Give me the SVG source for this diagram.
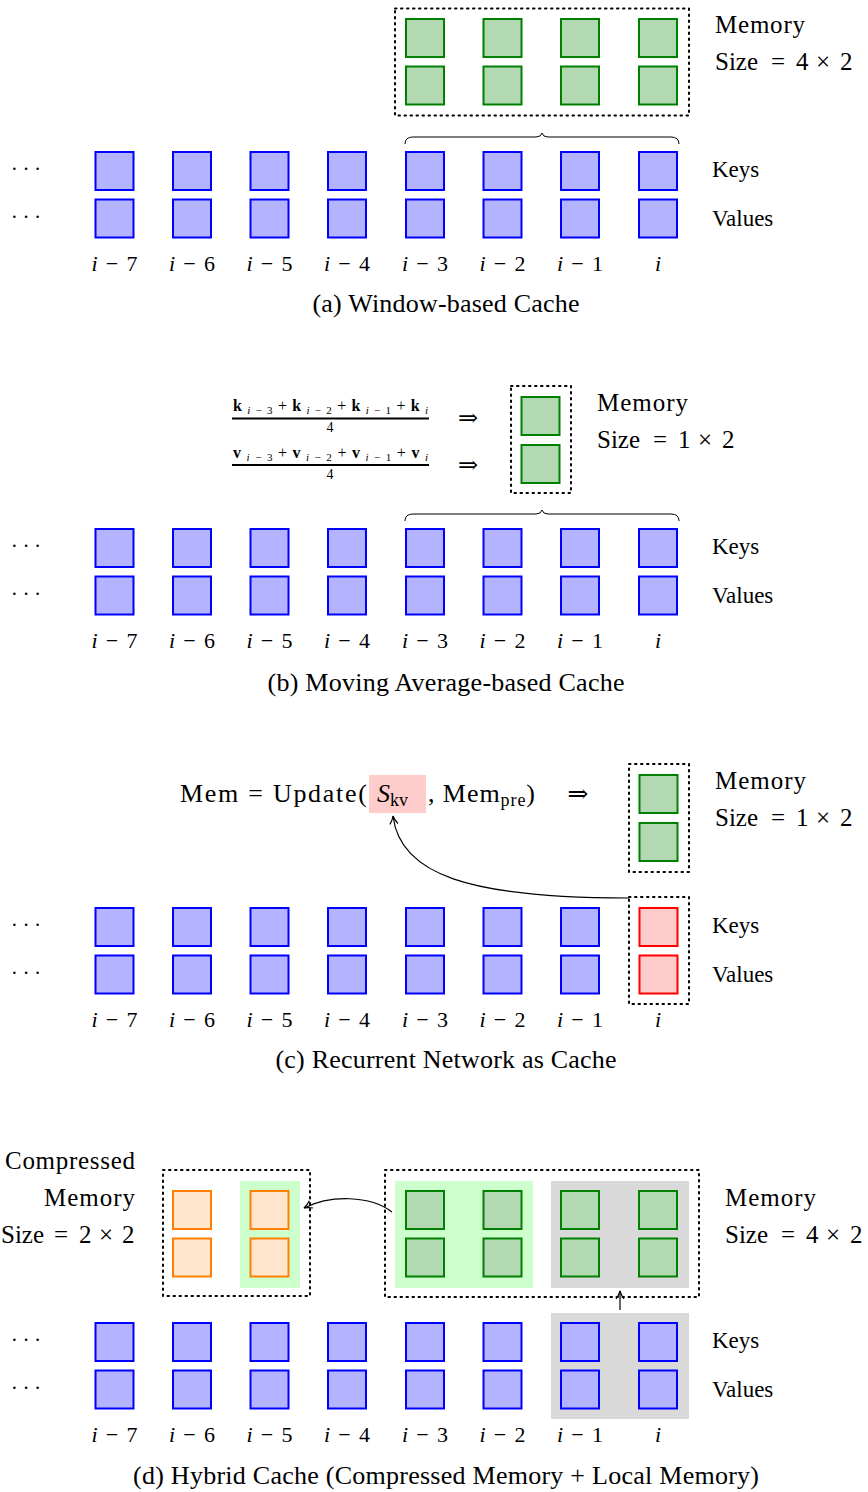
<svg xmlns="http://www.w3.org/2000/svg" width="868" height="1492" viewBox="0 0 868 1492">
<style>
text{font-family:"Liberation Serif","DejaVu Serif",serif;fill:#000}
.kv{fill:#b3b3ff;stroke:#0000ff;stroke-width:2}
.mem{fill:#b3d9b3;stroke:#008000;stroke-width:2}
.red{fill:#ffcccc;stroke:#ff0000;stroke-width:2}
.org{fill:#ffe6cc;stroke:#ff8000;stroke-width:2}
.dot{fill:none;stroke:#000;stroke-width:2;stroke-dasharray:1.5 4.5;stroke-linecap:round}
.brace{fill:none;stroke:#000;stroke-width:1}
.lbl{font-size:23px}
.big{font-size:25px}
.idx{font-size:22px;text-anchor:middle}
.cap{font-size:26px;text-anchor:middle}
.dots{font-size:20px}
.conn{fill:none;stroke:#000;stroke-width:1.2}
</style>
<defs>
<g id="col">
<rect class="kv" x="0" y="152" width="38" height="38"/>
<rect class="kv" x="0" y="199.5" width="38" height="38"/>
</g>
<g id="row">
<use href="#col" x="95.5"/><use href="#col" x="173"/><use href="#col" x="250.5"/><use href="#col" x="328"/>
<use href="#col" x="406"/><use href="#col" x="483.5"/><use href="#col" x="561"/>
</g>
<g id="labels">
<text class="idx" x="114.5" y="271" textLength="46"><tspan font-style="italic">i</tspan> − 7</text>
<text class="idx" x="192" y="271" textLength="46"><tspan font-style="italic">i</tspan> − 6</text>
<text class="idx" x="269.5" y="271" textLength="46"><tspan font-style="italic">i</tspan> − 5</text>
<text class="idx" x="347" y="271" textLength="46"><tspan font-style="italic">i</tspan> − 4</text>
<text class="idx" x="425" y="271" textLength="46"><tspan font-style="italic">i</tspan> − 3</text>
<text class="idx" x="502.5" y="271" textLength="46"><tspan font-style="italic">i</tspan> − 2</text>
<text class="idx" x="580" y="271" textLength="46"><tspan font-style="italic">i</tspan> − 1</text>
<text class="idx" x="658" y="271" font-style="italic">i</text>
<text class="dots" x="11" y="176">· · ·</text>
<text class="dots" x="11" y="224">· · ·</text>
<text class="lbl" x="712" y="177">Keys</text>
<text class="lbl" x="712" y="226">Values</text>
</g>
<path id="brace" class="brace" d="M405,144 Q405,137 413,137 L536,137 Q541,137 542,133 Q543,137 548,137 L671,137 Q679,137 679,144"/>
<marker id="ah" viewBox="0 0 10 10" refX="9" refY="5" markerWidth="10" markerHeight="10" markerUnits="userSpaceOnUse" orient="auto">
<path d="M1,1 Q5,4 9,5 Q5,6 1,9" fill="none" stroke="#000" stroke-width="1.2"/>
</marker>
</defs>

<!-- (a) -->
<g id="a-kv">
<use href="#row"/><use href="#col" x="639"/>
<use href="#labels"/>
</g>
<g id="a-memory">
<rect class="dot" x="395" y="8.5" width="294" height="107"/>
<rect class="mem" x="406" y="19" width="38" height="38"/><rect class="mem" x="406" y="66.5" width="38" height="38"/>
<rect class="mem" x="483.5" y="19" width="38" height="38"/><rect class="mem" x="483.5" y="66.5" width="38" height="38"/>
<rect class="mem" x="561" y="19" width="38" height="38"/><rect class="mem" x="561" y="66.5" width="38" height="38"/>
<rect class="mem" x="639" y="19" width="38" height="38"/><rect class="mem" x="639" y="66.5" width="38" height="38"/>
<text class="big" x="715" y="33" textLength="90">Memory</text>
<text class="big" y="70"><tspan x="715">Size</tspan><tspan x="771">=</tspan><tspan x="796">4</tspan><tspan x="816">×</tspan><tspan x="840">2</tspan></text>
</g>
<g id="a-brace"><use href="#brace"/></g>
<text class="cap" x="446" y="312" textLength="267">(a) Window-based Cache</text>

<!-- (b) -->
<g id="b-kv" transform="translate(0,377)">
<use href="#row"/><use href="#col" x="639"/>
<use href="#labels"/>
<use href="#brace"/>
</g>
<g id="b-memory">
<rect class="dot" x="511" y="386" width="60" height="107"/>
<rect class="mem" x="521.5" y="397" width="38" height="38"/>
<rect class="mem" x="521.5" y="445" width="38" height="38"/>
<text class="big" x="597" y="411" textLength="91">Memory</text>
<text class="big" y="448"><tspan x="597">Size</tspan><tspan x="653">=</tspan><tspan x="678">1</tspan><tspan x="698">×</tspan><tspan x="722">2</tspan></text>
</g>
<g id="b-formula">
<text x="233" y="411" font-size="16" textLength="195"><tspan font-weight="bold">k</tspan><tspan font-size="11" dy="3" font-style="italic">i</tspan><tspan font-size="11">−3</tspan><tspan dy="-3">+</tspan><tspan font-weight="bold">k</tspan><tspan font-size="11" dy="3" font-style="italic">i</tspan><tspan font-size="11">−2</tspan><tspan dy="-3">+</tspan><tspan font-weight="bold">k</tspan><tspan font-size="11" dy="3" font-style="italic">i</tspan><tspan font-size="11">−1</tspan><tspan dy="-3">+</tspan><tspan font-weight="bold">k</tspan><tspan font-size="11" dy="3" font-style="italic">i</tspan></text>
<line x1="232" y1="418.5" x2="429" y2="418.5" stroke="#000" stroke-width="2"/>
<text x="330" y="432" font-size="14" text-anchor="middle">4</text>
<text x="233" y="458" font-size="16" textLength="195"><tspan font-weight="bold">v</tspan><tspan font-size="11" dy="3" font-style="italic">i</tspan><tspan font-size="11">−3</tspan><tspan dy="-3">+</tspan><tspan font-weight="bold">v</tspan><tspan font-size="11" dy="3" font-style="italic">i</tspan><tspan font-size="11">−2</tspan><tspan dy="-3">+</tspan><tspan font-weight="bold">v</tspan><tspan font-size="11" dy="3" font-style="italic">i</tspan><tspan font-size="11">−1</tspan><tspan dy="-3">+</tspan><tspan font-weight="bold">v</tspan><tspan font-size="11" dy="3" font-style="italic">i</tspan></text>
<line x1="232" y1="465" x2="429" y2="465" stroke="#000" stroke-width="2"/>
<text x="330" y="479" font-size="14" text-anchor="middle">4</text>
<text x="468" y="426" font-size="24" text-anchor="middle">⇒</text>
<text x="468" y="473" font-size="24" text-anchor="middle">⇒</text>
</g>
<text class="cap" x="446" y="691" textLength="357">(b) Moving Average-based Cache</text>

<!-- (c) -->
<g id="c-kv" transform="translate(0,756)">
<use href="#row"/>
<use href="#labels"/>
</g>
<g id="c-current">
<rect class="dot" x="629" y="897" width="60" height="107"/>
<rect class="red" x="639.5" y="908" width="38" height="38"/>
<rect class="red" x="639.5" y="955.5" width="38" height="38"/>
</g>
<g id="c-memory">
<rect class="dot" x="629" y="764" width="60" height="108"/>
<rect class="mem" x="639.5" y="775" width="38" height="38"/>
<rect class="mem" x="639.5" y="823" width="38" height="38"/>
<text class="big" x="715" y="789" textLength="91">Memory</text>
<text class="big" y="826"><tspan x="715">Size</tspan><tspan x="771">=</tspan><tspan x="796">1</tspan><tspan x="816">×</tspan><tspan x="840">2</tspan></text>
</g>
<g id="c-formula">
<rect x="369" y="775" width="57" height="38" fill="#ffcccc"/>
<text x="180" y="802" font-size="26" textLength="187">Mem = Update(</text>
<text x="377" y="802" font-size="26" font-style="italic">S<tspan font-size="18" font-style="normal" dy="4">kv</tspan></text>
<text x="428" y="802" font-size="26" textLength="107">, Mem<tspan font-size="18" dy="4">pre</tspan><tspan dy="-4">)</tspan></text>
<text x="578" y="802" font-size="25" text-anchor="middle">⇒</text>
</g>
<text class="cap" x="446" y="1068" textLength="341">(c) Recurrent Network as Cache</text>

<!-- (d) -->
<g id="d-bg">
<rect x="551" y="1313" width="138" height="106" fill="#d9d9d9"/>
<rect x="551" y="1181" width="138" height="107" fill="#d9d9d9"/>
<rect x="395" y="1181" width="138" height="107" fill="#ccffcc"/>
<rect x="240" y="1181" width="60" height="107" fill="#ccffcc"/>
</g>
<g id="d-kv" transform="translate(0,1171)">
<use href="#row"/><use href="#col" x="639"/>
<use href="#labels"/>
</g>
<g id="d-memory">
<rect class="dot" x="385" y="1170" width="314" height="127"/>
<rect class="mem" x="406" y="1191" width="38" height="38"/><rect class="mem" x="406" y="1238.5" width="38" height="38"/>
<rect class="mem" x="483.5" y="1191" width="38" height="38"/><rect class="mem" x="483.5" y="1238.5" width="38" height="38"/>
<rect class="mem" x="561" y="1191" width="38" height="38"/><rect class="mem" x="561" y="1238.5" width="38" height="38"/>
<rect class="mem" x="639" y="1191" width="38" height="38"/><rect class="mem" x="639" y="1238.5" width="38" height="38"/>
<text class="big" x="725" y="1206" textLength="91">Memory</text>
<text class="big" y="1243"><tspan x="725">Size</tspan><tspan x="781">=</tspan><tspan x="806">4</tspan><tspan x="826">×</tspan><tspan x="850">2</tspan></text>
</g>
<g id="d-compressed">
<rect class="dot" x="163" y="1170" width="147" height="126"/>
<rect class="org" x="173" y="1191" width="38" height="38"/><rect class="org" x="173" y="1238.5" width="38" height="38"/>
<rect class="org" x="250.5" y="1191" width="38" height="38"/><rect class="org" x="250.5" y="1238.5" width="38" height="38"/>
<text class="big" x="135" y="1169" text-anchor="end" textLength="130">Compressed</text>
<text class="big" x="135" y="1206" text-anchor="end" textLength="91">Memory</text>
<text class="big" y="1243"><tspan x="1">Size</tspan><tspan x="54">=</tspan><tspan x="79">2</tspan><tspan x="99">×</tspan><tspan x="122">2</tspan></text>
</g>
<text class="cap" x="446" y="1484" textLength="626">(d) Hybrid Cache (Compressed Memory + Local Memory)</text>

<g id="connectors">
<path class="conn" d="M629,898 C470,898 400,875 393,816" marker-end="url(#ah)"/>
<path class="conn" d="M392,1212 C370,1195 330,1195 304,1208" marker-end="url(#ah)" stroke-width="1.6"/>
<path class="conn" d="M620,1310 L620,1291" marker-end="url(#ah)"/>
</g>
</svg>
